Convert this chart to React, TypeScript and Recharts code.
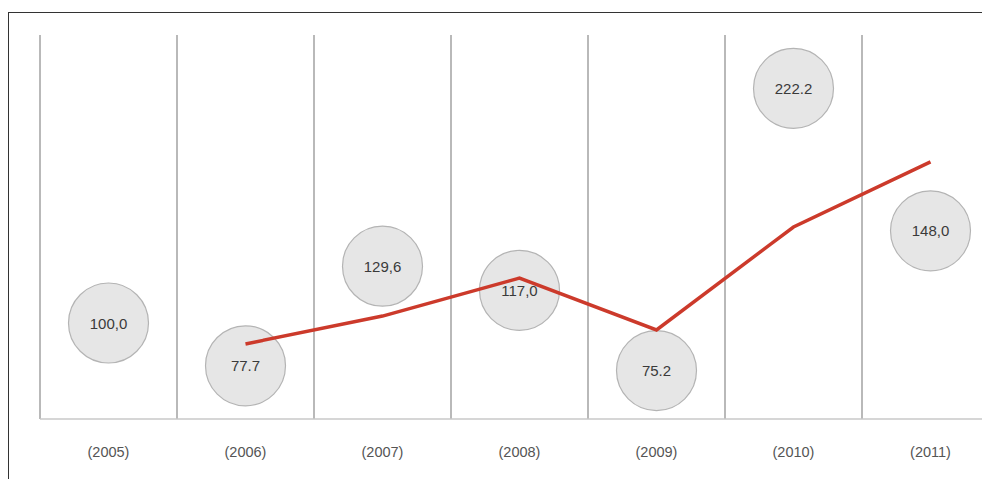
import { ComposedChart, Line, Scatter, XAxis, YAxis, CartesianGrid } from 'recharts';

const years = ['(2005)', '(2006)', '(2007)', '(2008)', '(2009)', '(2010)', '(2011)'];
const bubbleValues = [100.0, 77.7, 129.6, 117.0, 75.2, 222.2, 148.0];
const bubbleLabels = ['100,0', '77.7', '129,6', '117,0', '75.2', '222.2', '148,0'];
const lineValues = [null, 89.1, 103.6, 123.4, 96.4, 150.0, 183.9];

const chartData = years.map((year, i) => ({
  year,
  bubble: bubbleValues[i],
  label: bubbleLabels[i],
  line: lineValues[i],
}));

const FONT = '"Liberation Sans Narrow", "Liberation Sans", Arial, sans-serif';

// vertical separators sit on the band edges, not on the band centres
const bandEdges = ({ offset }: any) =>
  Array.from({ length: years.length + 1 }, (_, i) => offset.left + (i * offset.width) / years.length);

const Bubble = (props: any) => {
  const { cx, cy, payload } = props;
  if (cx == null || cy == null) return null;
  return (
    <g>
      <circle cx={cx} cy={cy} r={40} fill="#e6e6e6" stroke="#b4b4b4" strokeWidth={1.2} />
      <text
        x={cx}
        y={cy}
        textAnchor="middle"
        dominantBaseline="central"
        fontSize={15}
        fontFamily={FONT}
        fill="#3a3a3a"
      >
        {payload.label}
      </text>
    </g>
  );
};

export default function App() {
  return (
    <div
      style={{
        position: 'fixed',
        left: 8,
        top: 12,
        width: 974,
        height: 467,
        overflow: 'hidden',
        borderTop: '1.5px solid #333',
        borderLeft: '1.5px solid #333',
        background: '#fff',
      }}
    >
      <ComposedChart
        width={1010}
        height={467}
        data={chartData}
        margin={{ top: 22, right: 20, left: 31, bottom: 0 }}
      >
        <CartesianGrid
          horizontal={false}
          verticalCoordinatesGenerator={bandEdges}
          stroke="#a8a8a8"
          strokeWidth={1.6}
        />
        <XAxis
          dataKey="year"
          type="category"
          scale="band"
          tickLine={false}
          axisLine={{ stroke: '#c8c8c8', strokeWidth: 1.5 }}
          tickSize={6}
          tickMargin={22}
          height={61}
          interval={0}
          tick={{ fill: '#555', fontSize: 14.5, fontFamily: FONT }}
        />
        <YAxis hide domain={[50, 250]} allowDataOverflow />
        <Scatter
          dataKey="bubble"
          shape={Bubble}
          isAnimationActive={false}
        />
        <Line
          dataKey="line"
          stroke="#cc3a2b"
          strokeWidth={3.5}
          dot={false}
          activeDot={false}
          type="linear"
          zIndex={700}
          isAnimationActive={false}
        />
      </ComposedChart>
    </div>
  );
}
